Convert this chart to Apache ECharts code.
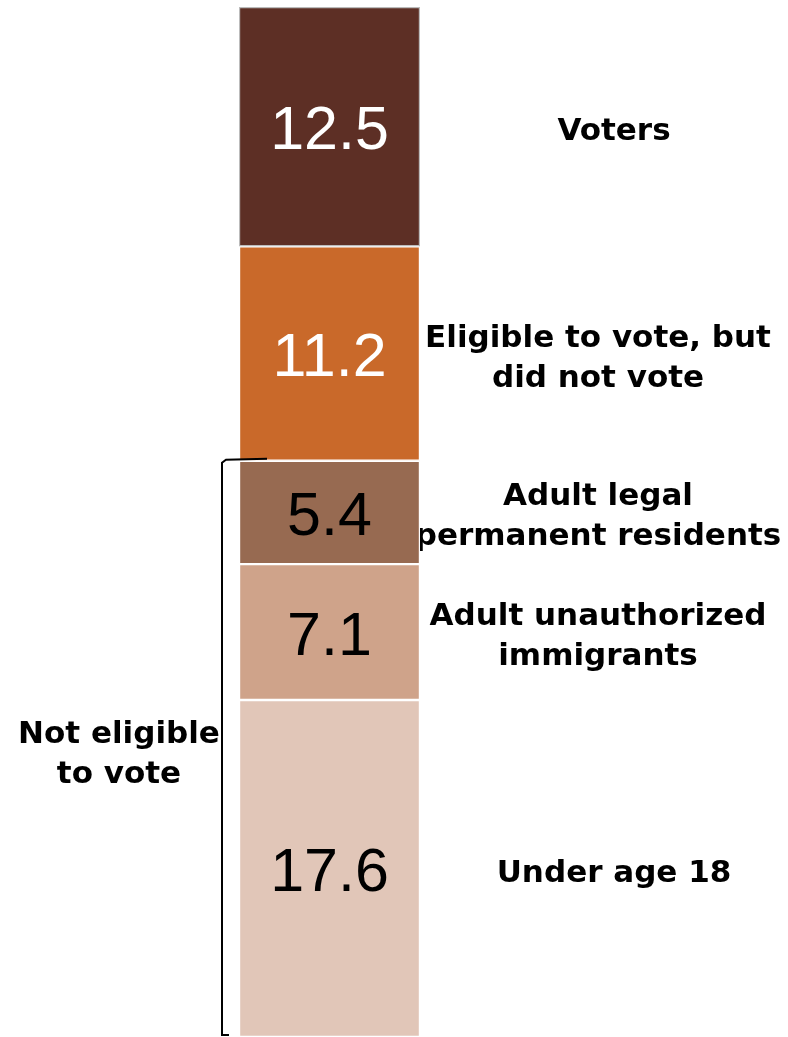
<!DOCTYPE html>
<html>
<head>
<meta charset="utf-8">
<style>html,body{margin:0;padding:0;background:#fff;}#c{width:788px;height:1037px;}</style>
<script src="https://cdn.jsdelivr.net/npm/echarts@6/dist/echarts.min.js"></script>
</head>
<body>
<div id="c"></div>
<script>
// Data (bottom to top of the stacked bar)
const categories = ['Under age 18', 'Adult unauthorized\nimmigrants', 'Adult legal\npermanent residents', 'Eligible to vote, but\ndid not vote', 'Voters'];
const values = [17.6, 7.1, 5.4, 11.2, 12.5];
const groupLabel = 'Not eligible\nto vote';
const groupCount = 3; // bottom three segments are "not eligible"

const colors = ['#E1C6B8', '#CFA38A', '#976A51', '#C9692A', '#5D2F25'];
const valueColors = ['#000', '#000', '#000', '#fff', '#fff'];
const borderColors = ['#fff', '#fff', '#fff', '#fff', '#bbb'];
const nameX = [375, 359, 359, 359, 375];

const total = values.reduce((a, b) => a + b, 0);
const chart = echarts.init(document.getElementById('c'), null, {renderer: 'canvas'});

const series = [];
values.forEach((v, i) => {
  series.push({
    type: 'bar', stack: 'a', barWidth: 181, barGap: '-100%',
    data: [v],
    itemStyle: {color: colors[i], borderColor: borderColors[i], borderWidth: 1.2},
    label: {show: true, position: 'inside', offset: [0, 6], formatter: p => p.value.toFixed(1),
      color: valueColors[i], fontFamily: 'Liberation Sans, Arial', fontSize: 61},
    emphasis: {disabled: true}, silent: true, z: 2
  });
});
values.forEach((v, i) => {
  series.push({
    type: 'bar', stack: 'b', barWidth: 181, barGap: '-100%',
    data: [v],
    itemStyle: {color: 'rgba(0,0,0,0)', borderWidth: 0},
    label: {show: true, position: [nameX[i], '50%'], offset: [0, 5], formatter: categories[i],
      align: 'center', verticalAlign: 'middle',
      color: '#000', fontFamily: 'DejaVu Sans', fontWeight: 'bold', fontSize: 31, lineHeight: 40},
    emphasis: {disabled: true}, silent: true, z: 1
  });
});

chart.setOption({
  animation: false,
  grid: {left: 239, width: 181, top: 7, height: 1030},
  xAxis: {type: 'category', data: ['Total'], show: false},
  yAxis: {type: 'value', min: 0, max: total, show: false},
  series: series
});

const notEligible = values.slice(0, groupCount).reduce((a, b) => a + b, 0);
const yTop = chart.convertToPixel({yAxisIndex: 0}, notEligible) - 2;
const yBot = chart.convertToPixel({yAxisIndex: 0}, 0) - 2;
chart.setOption({
  graphic: [
    {type: 'polyline', z: 100, shape: {points: [[267, yTop], [226, yTop + 1], [222, yTop + 4], [222, yBot], [229, yBot]]},
      style: {stroke: '#000', lineWidth: 2, fill: null}, silent: true},
    {type: 'text', z: 100, x: 119, y: (yTop + yBot) / 2 + 8,
      style: {text: groupLabel, textAlign: 'center', textVerticalAlign: 'middle',
        font: 'bold 31px "DejaVu Sans"', lineHeight: 40, fill: '#000'}, silent: true}
  ]
});
</script>
</body>
</html>
